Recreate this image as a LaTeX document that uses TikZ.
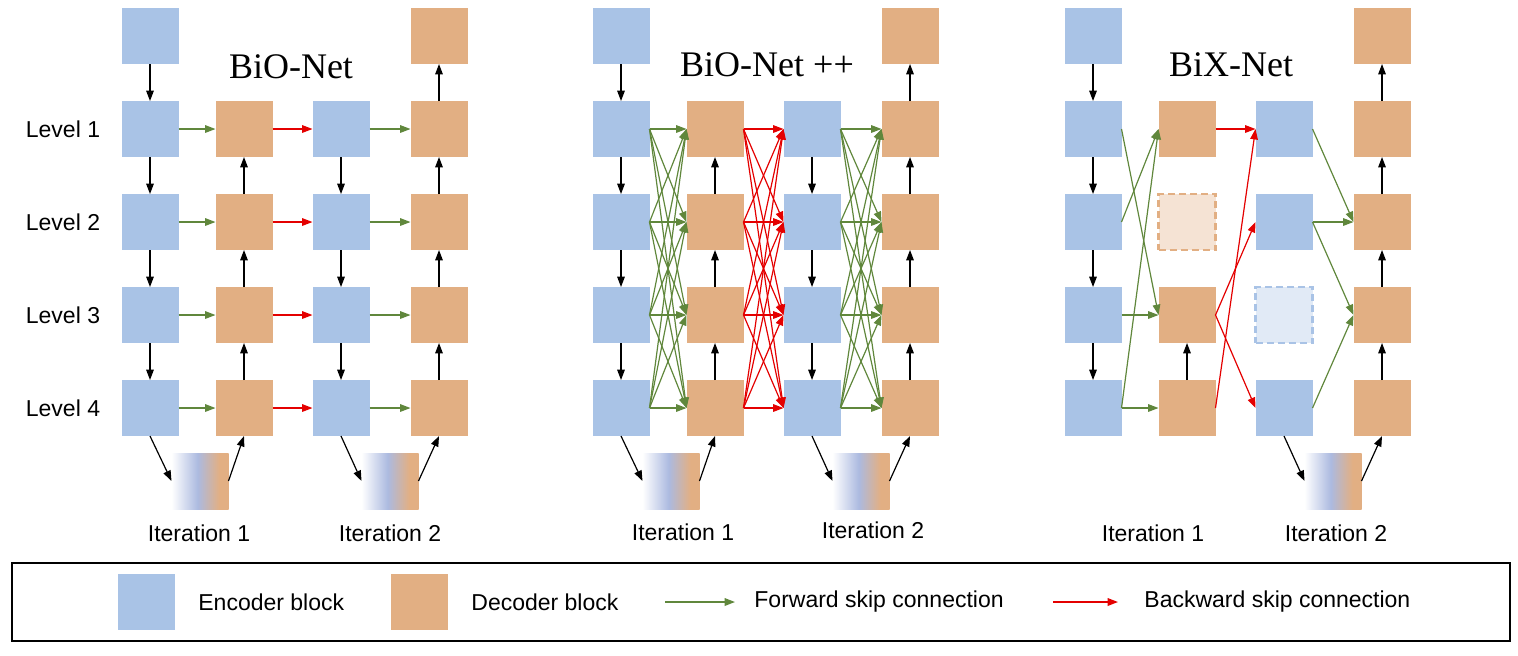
\documentclass[tikz,border=0pt]{standalone}
\usepackage{fontspec}
\setmainfont{Liberation Sans}
\newfontfamily\titlefont{Liberation Serif}
\usetikzlibrary{arrows.meta}

\definecolor{encBlue}{RGB}{169,195,230}
\definecolor{decOrange}{RGB}{226,175,131}
\definecolor{bneckBlue}{RGB}{172,186,224}
\definecolor{skipFwd}{RGB}{96,135,60}
\definecolor{skipBwd}{RGB}{228,0,0}
\pgfdeclarehorizontalshading{bneckShade}{100bp}{%
  color(0bp)=(white); color(25bp)=(white); color(48bp)=(bneckBlue);
  color(67bp)=(decOrange); color(100bp)=(decOrange)}

\begin{document}
\begin{tikzpicture}[x=0.5pt, y=-0.5pt,
    block/.style={minimum width=28.5pt, minimum height=28pt, inner sep=0pt, outer sep=0pt},
    enc/.style={block, fill=encBlue},
    dec/.style={block, fill=decOrange},
    encGhost/.style={block, fill=encBlue!35, draw=encBlue, line width=1.1pt, dash pattern=on 3.5pt off 2pt},
    decGhost/.style={block, fill=decOrange!35, draw=decOrange, line width=1.1pt, dash pattern=on 3.5pt off 2pt},
    bneck/.style={block, shading=bneckShade},
    flow/.style={-{Triangle[length=5.2pt, width=3.8pt]}, line width=0.6pt},
    fwd/.style={flow, skipFwd},
    bwd/.style={flow, skipBwd},
    lbl/.style={font=\fontsize{11.5}{13}\selectfont, inner sep=1pt},
    ttl/.style={font=\titlefont\fontsize{18}{21}\selectfont},
  ]
  \useasboundingbox (0,0) rectangle (1518,655);

  %--- blocks shared by all three nets ---
  \foreach \p/\ox in {A/0,B/471,C/943} {
    \node[enc] (\p1-0) at ({\ox+150},36) {};
    \node[dec] (\p4-0) at ({\ox+439},36) {};
    \foreach \l/\y in {1/129,2/222,3/315,4/408} {
      \node[enc] (\p1-\l) at ({\ox+150},\y) {};
      \node[dec] (\p4-\l) at ({\ox+439},\y) {};
    }
    \node[bneck] (\p-bn2) at ({\ox+390},481) {};
    % down the encoder, up the decoder
    \foreach \a/\b in {0/1,1/2,2/3,3/4} {
      \draw[flow] (\p1-\a.south) -- (\p1-\b.north);
      \draw[flow] (\p4-\b.north) -- (\p4-\a.south);
    }
  }

  %--- middle columns of BiO-Net and BiO-Net++ ---
  \foreach \p/\ox in {A/0,B/471} {
    \foreach \l/\y in {1/129,2/222,3/315,4/408} {
      \node[dec] (\p2-\l) at ({\ox+244},\y) {};
      \node[enc] (\p3-\l) at ({\ox+341},\y) {};
    }
    \node[bneck] (\p-bn1) at ({\ox+200},481) {};
    \foreach \a/\b in {1/2,2/3,3/4} {
      \draw[flow] (\p2-\b.north) -- (\p2-\a.south);
      \draw[flow] (\p3-\a.south) -- (\p3-\b.north);
    }
    \draw[flow] (\p1-4.south) -- (\p-bn1.west);
    \draw[flow] (\p-bn1.east) -- (\p2-4.south);
  }

  %--- middle columns of BiX-Net ---
  \node[dec]      (C2-1) at (1187,129) {};
  \node[decGhost] (C2-2) at (1187,222) {};
  \node[dec]      (C2-3) at (1187,315) {};
  \node[dec]      (C2-4) at (1187,408) {};
  \node[enc]      (C3-1) at (1284,129) {};
  \node[enc]      (C3-2) at (1284,222) {};
  \node[encGhost] (C3-3) at (1284,315) {};
  \node[enc]      (C3-4) at (1284,408) {};
  \draw[flow] (C2-4.north) -- (C2-3.south);

  %--- second bottleneck ---
  \foreach \p in {A,B,C} {
    \draw[flow] (\p3-4.south) -- (\p-bn2.west);
    \draw[flow] (\p-bn2.east) -- (\p4-4.south);
  }

  %--- skip connections: BiO-Net ---
  \foreach \l in {1,...,4} {
    \draw[fwd] (A1-\l.east) -- (A2-\l.west);
    \draw[bwd] (A2-\l.east) -- (A3-\l.west);
    \draw[fwd] (A3-\l.east) -- (A4-\l.west);
  }

  %--- skip connections: BiO-Net++ (every level to every level) ---
  \foreach \i in {1,...,4} {
    \foreach \j in {1,...,4} {
      \draw[fwd] (B1-\i.east) -- (B2-\j.west);
      \draw[bwd] (B2-\i.east) -- (B3-\j.west);
      \draw[fwd] (B3-\i.east) -- (B4-\j.west);
    }
  }

  %--- skip connections: BiX-Net ---
  \foreach \a/\b in {1/3,2/1,3/3,4/1,4/4}
    \draw[fwd] (C1-\a.east) -- (C2-\b.west);
  \foreach \a/\b in {1/1,3/2,3/4,4/1}
    \draw[bwd] (C2-\a.east) -- (C3-\b.west);
  \foreach \a/\b in {1/2,2/2,2/3,4/3}
    \draw[fwd] (C3-\a.east) -- (C4-\b.west);

  %--- titles and labels ---
  \node[ttl] (ttlA) at (291,67) {BiO-Net};
  \node[ttl] (ttlB) at (767,65) {BiO-Net ++};
  \node[ttl] (ttlC) at (1231,65) {BiX-Net};
  \foreach \l/\y in {1/129,2/222,3/315,4/408}
    \node[lbl] (lvl\l) at (63,\y) {Level \l};
  \node[lbl] (itA1) at (199,533)  {Iteration 1};
  \node[lbl] (itA2) at (390,533)  {Iteration 2};
  \node[lbl] (itB1) at (683,532)  {Iteration 1};
  \node[lbl] (itB2) at (873,530)  {Iteration 2};
  \node[lbl] (itC1) at (1153,533) {Iteration 1};
  \node[lbl] (itC2) at (1336,533) {Iteration 2};

  %--- legend ---
  \draw[line width=0.75pt] (12,563) rectangle (1510,641);
  \node[enc] (keyEnc) at (146,602) {};
  \node[lbl, anchor=west] (keyEncTxt) at (196,602) {Encoder block};
  \node[dec] (keyDec) at (419,602) {};
  \node[lbl, anchor=west] (keyDecTxt) at (469,602) {Decoder block};
  \coordinate (keyFwdA) at (665,602);
  \coordinate (keyFwdB) at (735,602);
  \draw[fwd, line width=0.8pt] (keyFwdA) -- (keyFwdB);
  \node[lbl, anchor=west] (keyFwdTxt) at (752,602) {Forward skip connection};
  \coordinate (keyBwdA) at (1053,602);
  \coordinate (keyBwdB) at (1118,602);
  \draw[bwd, line width=0.8pt] (keyBwdA) -- (keyBwdB);
  \node[lbl, anchor=west] (keyBwdTxt) at (1142,602) {Backward skip connection};

\end{tikzpicture}
\end{document}
